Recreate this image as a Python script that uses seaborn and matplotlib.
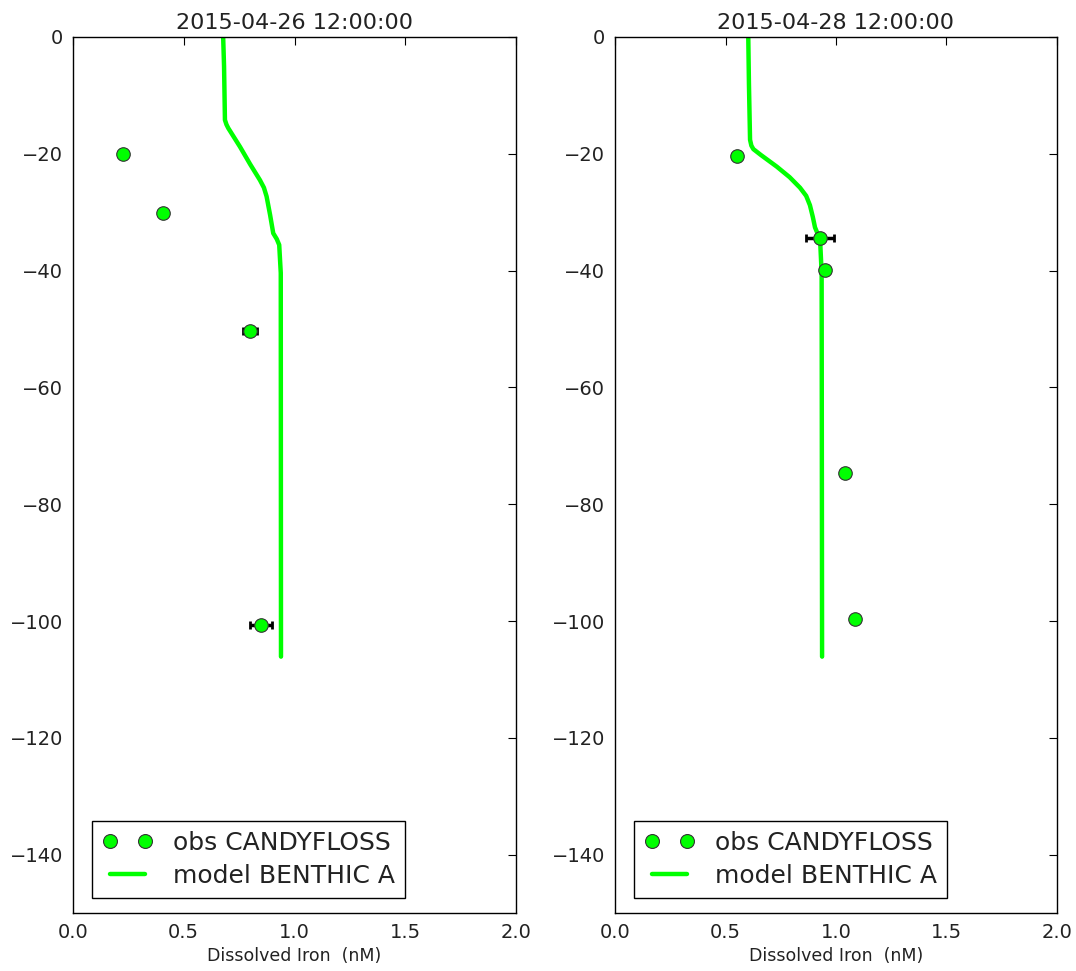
import numpy as np
import pandas as pd
import matplotlib
matplotlib.use("Agg")
import matplotlib.pyplot as plt
from matplotlib.lines import Line2D
import seaborn as sns

# Panel titles
titles = ["2015-04-26 12:00:00", "2015-04-28 12:00:00"]

# Observations (CANDYFLOSS): dissolved iron (nM), depth (m), x error
obs_fe_1 = [0.226, 0.406, 0.799, 0.849]
obs_depth_1 = [-20.0, -30.2, -50.3, -100.6]
obs_err_1 = [0.0, 0.0, 0.033, 0.049]

obs_fe_2 = [0.552, 0.928, 0.950, 1.041, 1.086]
obs_depth_2 = [-20.4, -34.4, -39.9, -74.6, -99.6]
obs_err_2 = [0.0, 0.063, 0.0, 0.0, 0.02]

# Model (BENTHIC A) profiles
model_fe_1 = [0.678, 0.682, 0.686, 0.693, 0.701, 0.754, 0.800, 0.844, 0.862, 0.874,
              0.890, 0.904, 0.920, 0.931, 0.938, 0.939]
model_depth_1 = [0.0, -5.0, -14.2, -15.0, -15.6, -18.8, -21.8, -24.5, -25.8, -27.3,
                 -30.5, -33.6, -34.6, -35.6, -40.4, -106.1]

model_fe_2 = [0.603, 0.606, 0.611, 0.617, 0.626, 0.660, 0.732, 0.790, 0.837, 0.865,
              0.882, 0.895, 0.905, 0.928, 0.935, 0.937]
model_depth_2 = [0.0, -8.0, -17.6, -18.6, -19.2, -20.2, -22.2, -24.0, -25.8, -27.2,
                 -28.8, -30.8, -32.6, -34.7, -40.4, -106.1]

GREEN = "#00ff00"

sns.set_style("white")
plt.rcParams["font.family"] = ["DejaVu Sans"]
plt.rcParams["axes.unicode_minus"] = True
plt.rcParams["text.color"] = "#222222"
plt.rcParams["axes.labelcolor"] = "#222222"
plt.rcParams["xtick.color"] = "black"
plt.rcParams["ytick.color"] = "black"
plt.rcParams["xtick.labelcolor"] = "#222222"
plt.rcParams["ytick.labelcolor"] = "#222222"

fig = plt.figure(figsize=(10.76, 9.71), dpi=100)
boxes = [[0.0678, 0.0597, 0.4118, 0.9022], [0.5716, 0.0597, 0.4107, 0.9022]]

panels = [
    (obs_fe_1, obs_depth_1, obs_err_1, model_fe_1, model_depth_1),
    (obs_fe_2, obs_depth_2, obs_err_2, model_fe_2, model_depth_2),
]

for box, title, (ofe, odep, oerr, mfe, mdep) in zip(boxes, titles, panels):
    ax = fig.add_axes(box)
    model = pd.DataFrame({"fe": mfe, "depth": mdep})
    obs = pd.DataFrame({"fe": ofe, "depth": odep, "err": oerr})

    sns.lineplot(data=model, x="fe", y="depth", sort=False, color=GREEN,
                 linewidth=3.2, ax=ax, zorder=2)
    has_err = obs[obs["err"] > 0]
    ax.errorbar(has_err["fe"], has_err["depth"], xerr=has_err["err"], fmt="none",
                ecolor="black", elinewidth=2.5, capsize=3, capthick=2, zorder=3)
    sns.scatterplot(data=obs, x="fe", y="depth", color=GREEN, s=95,
                    edgecolor="#333333", linewidth=0.8, ax=ax, zorder=4)

    ax.set_xlim(0, 2)
    ax.set_ylim(-150, 0)
    ax.set_xticks([0.0, 0.5, 1.0, 1.5, 2.0])
    ax.set_xticklabels(["0.0", "0.5", "1.0", "1.5", "2.0"])
    ax.set_yticks(np.arange(-140, 1, 20))
    ax.set_title(title, fontsize=16, pad=6)
    ax.set_xlabel("Dissolved Iron  (nM)", fontsize=12.5)
    ax.set_ylabel("")
    ax.tick_params(direction="in", top=True, right=True, length=6, width=0.8,
                   labelsize=14, pad=7)
    for sp in ax.spines.values():
        sp.set_color("black")
        sp.set_linewidth(1.0)

    handles = [
        Line2D([], [], ls="", marker="o", color=GREEN, markersize=10,
               markeredgecolor="#333333", markeredgewidth=0.8),
        Line2D([], [], color=GREEN, linewidth=3.2),
    ]
    leg = ax.legend(handles, ["obs CANDYFLOSS", "model BENTHIC A"], loc="lower left",
                    numpoints=2, fontsize=18, fancybox=False, framealpha=1,
                    edgecolor="black", borderpad=0.4, handlelength=2.0,
                    handletextpad=0.85, labelspacing=0.35,
                    bbox_to_anchor=(0.015, 0.003))
    leg.get_frame().set_linewidth(1.0)

fig.savefig("out.png", dpi=100)
